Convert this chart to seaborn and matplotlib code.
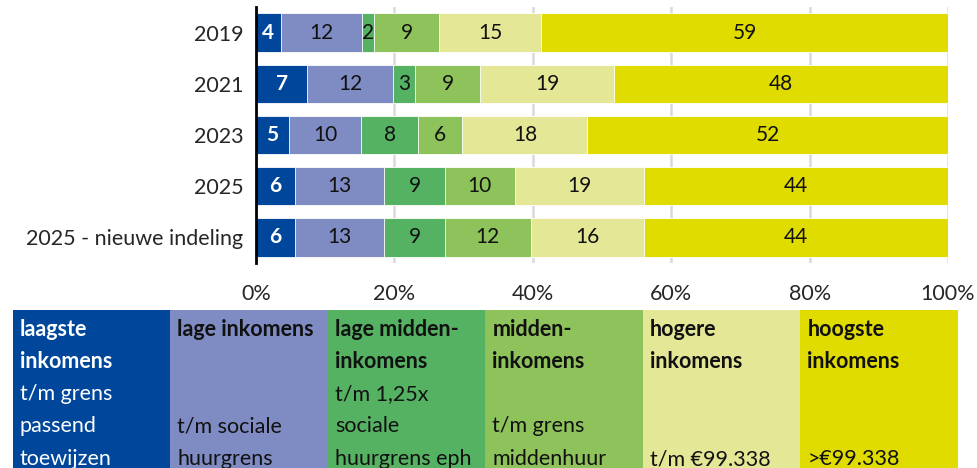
import numpy as np
import pandas as pd
import matplotlib
matplotlib.use("Agg")
import matplotlib.pyplot as plt
import seaborn as sns

jaren = ["2019", "2021", "2023", "2025", "2025 - nieuwe indeling"]
groepen = ["laagste", "lage", "lage midden", "midden", "hogere", "hoogste"]
laagste = [3.6, 7.4, 4.8, 5.6, 5.6]
lage = [11.7, 12.4, 10.4, 12.9, 12.9]
lage_midden = [1.8, 3.2, 8.2, 8.8, 8.8]
midden = [9.4, 9.4, 6.4, 10.1, 12.4]
hogere = [14.7, 19.3, 18.1, 18.6, 16.3]
hoogste = [58.8, 48.3, 52.1, 44.0, 44.0]

kleuren = ["#00479B", "#7F8BC3", "#55B263", "#8EC25A", "#E4E796", "#E0DC00"]
tekstkleur = ["white", "#111111", "#111111", "#111111", "#111111", "#111111"]

# legenda-tabel onder de grafiek: (tekst, vet)
legenda = [
    [("laagste", True), ("inkomens", True), ("t/m grens", False), ("passend", False), ("toewijzen", False)],
    [("lage inkomens", True), ("", False), ("", False), ("t/m sociale", False), ("huurgrens", False)],
    [("lage midden-", True), ("inkomens", True), ("t/m 1,25x", False), ("sociale", False), ("huurgrens eph", False)],
    [("midden-", True), ("inkomens", True), ("", False), ("t/m grens", False), ("middenhuur", False)],
    [("hogere", True), ("inkomens", True), ("", False), ("", False), ("t/m €99.338", False)],
    [("hoogste", True), ("inkomens", True), ("", False), ("", False), (">€99.338", False)],
]

df = pd.DataFrame({"jaar": jaren, "laagste": laagste, "lage": lage, "lage midden": lage_midden,
                   "midden": midden, "hogere": hogere, "hoogste": hoogste})
cum = df[groepen].cumsum(axis=1)

sns.set_style("white")
plt.rcParams["font.family"] = ["Lato", "DejaVu Sans"]

fig = plt.figure(figsize=(9.78, 4.68), dpi=100)
ax = fig.add_axes([256 / 978, 1 - 263 / 468, 692 / 978, 256 / 468])

# gestapelde balken: cumulatief, van achter naar voren tekenen
for i in range(len(groepen) - 1, -1, -1):
    sns.barplot(x=cum[groepen[i]], y=df["jaar"], color=kleuren[i], orient="h",
                width=0.75, edgecolor="white", linewidth=0.6, saturation=1, ax=ax, zorder=3)

for r in range(len(jaren)):
    for i, g in enumerate(groepen):
        v = df.loc[r, g]
        mid = cum.loc[r, g] - v / 2
        ax.text(mid, r, f"{round(v)}", ha="center", va="center", fontsize=15,
                color=tekstkleur[i], fontweight="bold" if i == 0 else "normal", zorder=5)

ax.set_xlim(0, 100)
ax.set_ylim(len(jaren) - 0.5, -0.5)
ax.set_xticks([0, 20, 40, 60, 80, 100])
ax.set_xticklabels([f"{t}%" for t in [0, 20, 40, 60, 80, 100]])
ax.set_xlabel("")
ax.set_ylabel("")
ax.tick_params(axis="x", length=0, pad=15, labelsize=15.5)
ax.tick_params(axis="y", length=0, pad=9, labelsize=15.5)
ax.grid(axis="x", color="#D9D9D9", linewidth=1.8, zorder=0)
ax.set_axisbelow(True)
for s in ["top", "right", "bottom"]:
    ax.spines[s].set_visible(False)
ax.spines["left"].set_color("black")
ax.spines["left"].set_linewidth(2)
ax.spines["left"].set_zorder(6)

# legenda-tabel
lax = fig.add_axes([13 / 978, 0, 945 / 978, 158 / 468])
lax.bar(np.arange(len(groepen)), [1] * len(groepen), width=1, align="edge", color=kleuren, linewidth=0)
lax.set_xlim(0, len(groepen))
lax.set_ylim(1, 0)
lax.axis("off")
for c, regels in enumerate(legenda):
    for j, (tekst, vet) in enumerate(regels):
        if not tekst:
            continue
        lax.text(c + 7 / 157.5, (19 + 32.5 * j) / 158, tekst, ha="left", va="center",
                 fontsize=15.5, fontweight="bold" if vet else "normal", color=tekstkleur[c])

fig.savefig("out.png", dpi=100)
